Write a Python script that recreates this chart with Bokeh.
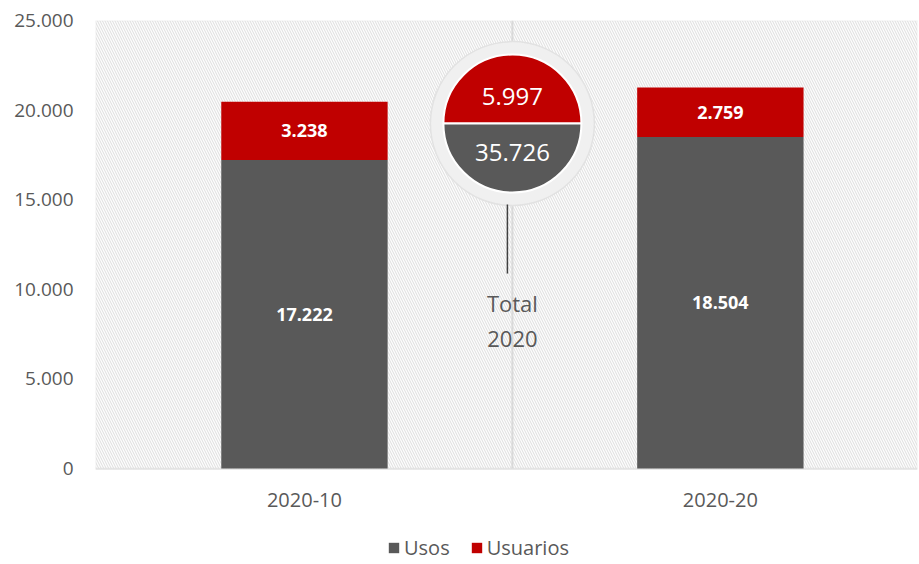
from bokeh.plotting import figure
from bokeh.models import (ColumnDataSource, Range1d, FixedTicker, BoxAnnotation,
                          Legend, LegendItem)
from bokeh.core.properties import value
from bokeh.embed import file_html
from bokeh.resources import INLINE
import math

# ---- data ----
categories = ["2020-10", "2020-20"]
usos = [17222, 18504]
usuarios = [3238, 2759]
total_label = ["Total", "2020"]
y_ticks = [0, 5000, 10000, 15000, 20000, 25000]
y_tick_labels = ["0", "5.000", "10.000", "15.000", "20.000", "25.000"]

GRAY = "#595959"
RED = "#c00000"
TXT = "#595959"
FONT = "Open Sans"


def fmt(v):
    return f"{v:,}".replace(",", ".")


xs = [i + 1 for i in range(len(categories))]
src = ColumnDataSource(dict(x=xs, usos=usos, usuarios=usuarios))

Y_MAX = 25000
PLOT_H = 448                 # pixel height of the hatched plot area
BOTTOM_H = 96                # pixels below it for category labels + legend
upp = Y_MAX / PLOT_H         # data units per pixel
Y_MIN = -BOTTOM_H * upp
FRAME_W = 822
X0, X1 = 0.4976, 2.474
xpp = (X1 - X0) / FRAME_W

p = figure(output_backend="svg", toolbar_location=None,
           frame_width=FRAME_W, frame_height=PLOT_H + BOTTOM_H,
           x_range=Range1d(X0, X1), y_range=Range1d(Y_MIN, Y_MAX),
           min_border_left=95, min_border_top=20, min_border_right=2,
           min_border_bottom=0)
p.background_fill_color = "#ffffff"
p.border_fill_color = "#ffffff"
p.outline_line_color = None

# hatched plot area with border (from 0 upwards)
p.add_layout(BoxAnnotation(bottom=0, fill_color="#fdfdfd", fill_alpha=1.0,
                           line_color="#d9d9d9", line_width=2,
                           hatch_pattern="\\", hatch_color="#d3d3d3",
                           hatch_scale=5, hatch_weight=1, hatch_alpha=0.75,
                           level="underlay"))

# grid
p.ygrid.ticker = FixedTicker(ticks=y_ticks)
p.ygrid.grid_line_color = "#d9d9d9"
p.ygrid.grid_line_width = 2
p.xgrid.visible = False
mid_x = sum(xs) / len(xs)
# vertical divider between the two categories, only inside the plot area
p.segment(x0=[mid_x], y0=[0], x1=[mid_x], y1=[Y_MAX],
          line_color="#d9d9d9", line_width=2)

# axes
p.xaxis.visible = False
p.yaxis.ticker = FixedTicker(ticks=y_ticks)
p.yaxis.major_label_overrides = {t: l for t, l in zip(y_ticks, y_tick_labels)}
p.yaxis.axis_line_color = None
p.yaxis.major_tick_line_color = None
p.yaxis.minor_tick_line_color = None
p.yaxis.major_tick_out = 0
p.yaxis.major_tick_in = 0
p.yaxis.major_label_text_color = TXT
p.yaxis.major_label_text_font = FONT
p.yaxis.major_label_text_font_size = "19px"
p.yaxis.major_label_standoff = 22

# category labels under the plot area
p.text(x=xs, y=[-31 * upp] * len(xs), text=categories, text_color=TXT,
       text_font=value(FONT), text_font_size="20px", text_align="center",
       text_baseline="middle")

# bars
rs = p.vbar_stack(["usos", "usuarios"], x="x", width=0.4, color=[GRAY, RED],
                  line_color=None, source=src)

# bar labels
lab_x, lab_y, lab_t = [], [], []
for x, u, s in zip(xs, usos, usuarios):
    lab_x += [x, x]
    lab_y += [u / 2, u + s / 2]
    lab_t += [fmt(u), fmt(s)]
p.text(x=lab_x, y=lab_y, text=lab_t, text_color="white", text_font=value(FONT),
       text_font_style="bold", text_font_size="18px", text_align="center",
       text_baseline="middle")

# total circle
cy = Y_MAX * 0.77
p.circle(x=[mid_x], y=[cy], radius=82, radius_units="screen",
         fill_color="#f0f0f0", line_color="#e2e2e2", line_width=1.5)
p.wedge(x=[mid_x], y=[cy], radius=69, radius_units="screen",
        start_angle=0, end_angle=math.pi, fill_color=RED,
        line_color="white", line_width=2)
p.wedge(x=[mid_x], y=[cy], radius=69, radius_units="screen",
        start_angle=math.pi, end_angle=2 * math.pi, fill_color=GRAY,
        line_color="white", line_width=2)
p.text(x=[mid_x, mid_x], y=[cy + 27 * upp, cy - 29 * upp],
       text=[fmt(sum(usuarios)), fmt(sum(usos))], text_color="white",
       text_font=value(FONT), text_font_size="24px", text_align="center",
       text_baseline="middle")

# connector and "Total 2020"
p.segment(x0=[mid_x - 5 * xpp], y0=[cy - 81 * upp],
          x1=[mid_x - 5 * xpp], y1=[cy - 150 * upp],
          line_color="#404040", line_width=1.5)
p.text(x=[mid_x, mid_x], y=[cy - 179 * upp, cy - 215 * upp], text=total_label,
       text_color=TXT, text_font=value(FONT), text_font_size="22px",
       text_align="center", text_baseline="middle")

# legend at the bottom
legend = Legend(items=[LegendItem(label="Usos", renderers=[rs[0]]),
                       LegendItem(label="Usuarios", renderers=[rs[1]])],
                orientation="horizontal", location=(292, 3),
                label_text_font=FONT, label_text_font_size="20px",
                label_text_color=TXT, glyph_width=13, glyph_height=13,
                spacing=20, label_standoff=4, border_line_color=None,
                background_fill_alpha=0, margin=0, padding=0)
p.add_layout(legend)

open("out.html", "w").write(file_html(p, INLINE))
